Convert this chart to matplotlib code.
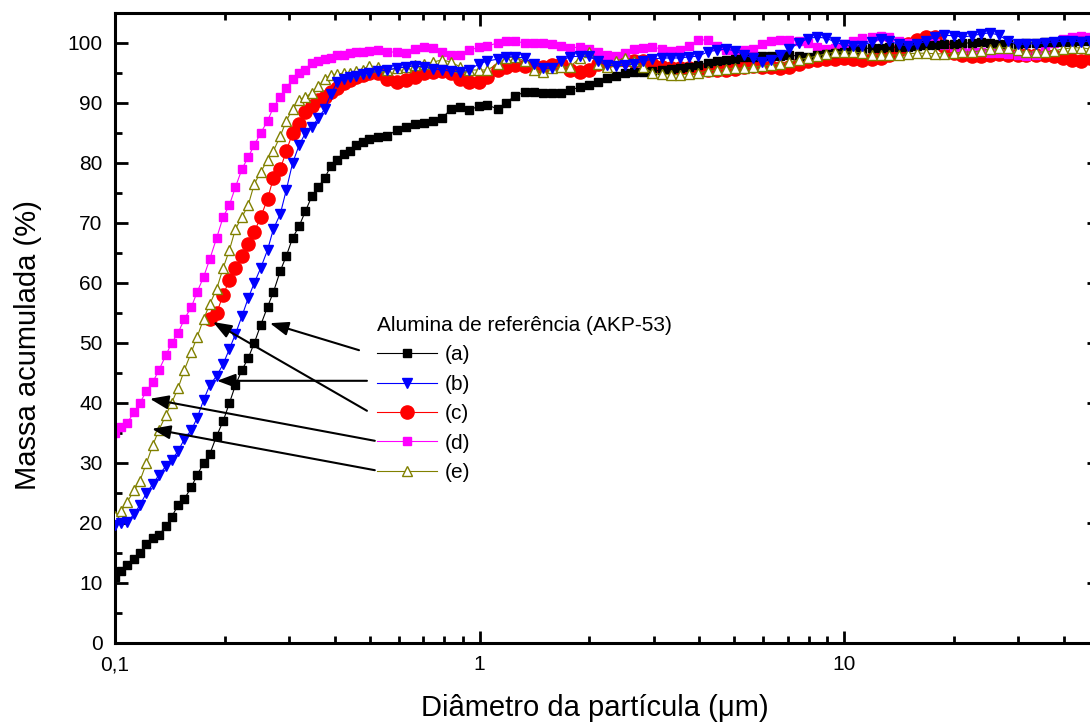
import numpy as np
import matplotlib.pyplot as plt
from matplotlib.ticker import FixedLocator, LogLocator, MultipleLocator, NullFormatter

plt.rcParams['font.family'] = ['Liberation Sans', 'DejaVu Sans']

# Diametro da particula (um)
diametro = [
    0.100, 0.104, 0.108, 0.113, 0.117, 0.122, 0.127, 0.132, 0.138, 0.143,
    0.149, 0.155, 0.162, 0.168, 0.175, 0.182, 0.190, 0.198, 0.206, 0.214,
    0.223, 0.232, 0.241, 0.251, 0.262, 0.272, 0.284, 0.295, 0.307, 0.320,
    0.333, 0.347, 0.361, 0.376, 0.391, 0.407, 0.424, 0.441, 0.459, 0.478, 0.498,
    0.527, 0.559, 0.592, 0.627, 0.664, 0.703, 0.745, 0.789, 0.836, 0.886, 0.938, 0.994,
    1.05, 1.12, 1.18, 1.25, 1.33, 1.41, 1.49, 1.58, 1.67, 1.77, 1.88, 1.99,
    2.11, 2.23, 2.37, 2.51, 2.66, 2.81, 2.98, 3.16, 3.35, 3.55, 3.76, 3.98,
    4.22, 4.47, 4.73, 5.01, 5.31, 5.62, 5.96, 6.31, 6.68, 7.08, 7.50, 7.94,
    8.41, 8.91, 9.44, 10.0, 10.6, 11.2, 11.9, 12.6, 13.3, 14.1, 15.0, 15.8,
    16.8, 17.8, 18.8, 20.0, 21.1, 22.4, 23.7, 25.1, 26.6, 28.2, 29.9, 31.6,
    33.5, 35.5, 37.6, 39.8, 42.2, 44.7, 47.3,
]

# Massa acumulada (%)
massa_a = [
    11.0, 12.0, 13.0, 14.0, 15.0, 16.5, 17.5, 18.0, 19.5, 21.0,
    23.0, 24.0, 26.0, 28.0, 30.0, 31.5, 34.5, 37.0, 40.0, 43.0,
    45.5, 47.5, 50.0, 53.0, 56.0, 58.5, 62.0, 64.5, 67.5, 69.5,
    72.0, 74.5, 76.0, 77.5, 79.5, 80.5, 81.5, 82.0, 83.0, 83.5, 84.0,
    84.3, 84.5, 85.5, 86.0, 86.5, 86.7, 87.0, 87.5, 89.0, 89.3, 88.8, 89.5,
    89.7, 89.0, 90.0, 91.2, 91.8, 91.8, 91.7, 91.6, 91.7, 92.2, 92.6, 93.0,
    93.5, 94.2, 94.5, 95.0, 95.1, 95.2, 95.3, 95.5, 95.6, 95.8, 96.0, 96.3,
    96.7, 97.0, 97.2, 97.4, 97.6, 97.7, 97.8, 97.8, 97.9, 98.0, 97.8, 97.7,
    98.0, 98.2, 98.4, 98.5, 98.8, 99.0, 99.2, 99.2, 99.3, 99.3, 99.4, 99.5,
    99.6, 99.7, 99.8, 99.8, 100.0, 100.0, 100.1, 100.0, 99.9, 99.8, 99.9, 100.0,
    100.0, 100.1, 100.2, 100.2, 100.2, 100.3, 100.3,
]
massa_b = [
    19.7, 20.0, 20.2, 21.5, 23.0, 25.0, 26.5, 28.0, 29.5, 30.5,
    32.0, 34.0, 35.5, 37.5, 40.5, 43.0, 44.5, 46.5, 49.0, 51.5,
    54.5, 57.5, 60.0, 62.5, 65.5, 69.0, 71.5, 75.5, 80.0, 83.0,
    85.0, 86.0, 87.5, 89.0, 91.5, 93.5, 94.0, 94.3, 94.5, 94.8, 95.0,
    95.3, 95.5, 95.8, 96.0, 96.2, 96.0, 95.7, 95.5, 95.3, 95.2, 95.5, 96.5,
    97.0, 97.3, 97.7, 97.7, 97.5, 96.5, 95.8, 95.8, 97.0, 97.7, 97.8, 97.8,
    97.0, 96.3, 96.2, 96.3, 96.5, 97.0, 97.3, 97.5, 97.5, 97.5, 97.7, 97.8,
    98.5, 98.8, 99.0, 98.7, 98.0, 97.5, 96.8, 97.2, 98.0, 99.0, 100.0, 100.7,
    101.0, 100.8, 100.2, 99.6, 99.5, 99.5, 100.2, 100.7, 100.3, 99.8, 99.5, 99.8,
    100.3, 101.0, 101.3, 101.2, 101.0, 101.2, 101.5, 101.7, 101.3, 100.3, 99.8, 99.8,
    99.9, 100.0, 100.2, 100.3, 100.3, 100.2, 100.3,
]
massa_c = [
    np.nan, np.nan, np.nan, np.nan, np.nan, np.nan, np.nan, np.nan, np.nan, np.nan,
    np.nan, np.nan, np.nan, np.nan, np.nan, 54.0, 55.0, 58.0, 60.5, 62.5,
    64.5, 66.5, 68.5, 71.0, 74.0, 77.5, 79.0, 82.0, 85.0, 86.5,
    88.5, 89.5, 90.5, 91.0, 91.8, 92.5, 93.3, 93.8, 94.3, 94.7, 95.0,
    95.0, 94.0, 93.5, 93.8, 94.3, 95.0, 95.2, 95.3, 95.0, 94.0, 93.5, 93.5,
    94.3, 95.5, 96.0, 96.3, 96.2, 96.2, 96.0, 96.3, 96.5, 95.5, 95.2, 95.5,
    96.5, 97.0, 97.2, 97.2, 97.0, 97.0, 96.5, 96.0, 95.8, 95.8, 95.8, 95.7,
    95.5, 95.5, 95.5, 95.6, 96.0, 96.2, 96.0, 96.0, 95.8, 96.0, 96.5, 97.0,
    97.2, 97.3, 97.4, 97.5, 97.3, 97.2, 97.4, 97.5, 98.0, 98.8, 99.8, 100.5,
    101.0, 101.0, 99.5, 98.3, 98.0, 97.8, 97.8, 98.0, 98.2, 98.0, 98.0, 98.0,
    98.0, 98.0, 97.8, 97.5, 97.2, 97.0, 97.5,
]
massa_d = [
    35.0, 36.0, 36.7, 38.5, 40.0, 42.0, 43.5, 45.5, 48.0, 50.0,
    51.7, 54.0, 56.0, 58.5, 61.0, 64.0, 67.5, 71.0, 73.0, 76.0,
    79.0, 81.0, 83.0, 85.0, 87.0, 89.3, 91.0, 92.5, 94.0, 95.0,
    95.5, 96.7, 97.0, 97.3, 97.5, 98.0, 98.0, 98.3, 98.5, 98.5, 98.7,
    98.8, 98.5, 98.5, 98.3, 99.0, 99.3, 99.2, 98.5, 98.0, 98.0, 98.8, 99.3,
    99.5, 100.0, 100.3, 100.3, 100.0, 100.0, 100.0, 99.8, 99.5, 99.2, 99.3, 99.0,
    98.5, 98.0, 97.8, 98.3, 99.0, 99.2, 99.3, 99.0, 98.7, 98.8, 99.5, 100.5,
    100.5, 99.5, 98.8, 98.7, 98.8, 99.0, 99.8, 100.3, 100.5, 100.5, 100.3, 100.0,
    99.3, 99.0, 99.2, 99.8, 100.3, 100.8, 101.0, 101.2, 101.0, 100.3, 100.0, 99.8,
    100.0, 100.0, 99.7, 99.3, 99.0, 98.8, 98.5, 98.3, 98.3, 98.2, 98.0, 97.8,
    98.0, 98.8, 100.0, 100.7, 101.0, 101.2, 101.0,
]
massa_e = [
    21.2, 22.0, 23.5, 25.5, 27.0, 30.0, 33.0, 35.5, 38.0, 40.0,
    42.5, 45.5, 48.5, 51.0, 54.0, 56.5, 59.0, 62.5, 65.5, 69.0,
    71.0, 73.0, 76.5, 78.5, 80.5, 82.0, 84.5, 87.0, 89.0, 90.5,
    91.0, 91.7, 92.8, 94.0, 94.7, 94.8, 95.0, 95.0, 95.3, 95.5, 96.2,
    96.0, 95.5, 95.8, 96.0, 96.3, 96.5, 96.8, 97.2, 96.8, 96.0, 95.5, 95.5,
    95.5, 96.5, 97.5, 97.7, 97.0, 95.5, 95.2, 95.8, 96.0, 96.0, 97.5, 98.5,
    96.5, 96.0, 97.0, 97.5, 97.0, 96.0, 95.0, 94.8, 94.7, 94.7, 94.8, 95.0,
    95.3, 95.5, 95.7, 95.8, 95.8, 96.0, 96.2, 96.3, 96.5, 96.8, 97.2, 97.5,
    97.8, 98.2, 98.5, 98.5, 98.5, 98.3, 98.0, 98.0, 98.0, 98.0, 98.2, 98.3,
    98.3, 98.2, 98.2, 98.3, 98.5, 98.5, 98.7, 99.0, 99.2, 99.2, 98.8, 98.5,
    98.5, 98.5, 98.7, 99.0, 99.2, 99.2, 99.0,
]

rotulos = ['(a)', '(b)', '(c)', '(d)', '(e)']
titulo_legenda = 'Alumina de referência (AKP-53)'

fig = plt.figure(figsize=(10.9, 7.24), dpi=100)
ax = fig.add_axes([115 / 1090, 81 / 724, 984 / 1090, 630 / 724])

# color, marker, size, face, zorder
estilos = [
    ('black', 's', 5.5, 'black', 3),
    ('#0000ff', 'v', 6.5, '#0000ff', 5),
    ('#ff0000', 'o', 9.5, '#ff0000', 1),
    ('#ff00ff', 's', 5.5, '#ff00ff', 2),
    ('#808000', '^', 6.5, 'white', 4),
]
dados = [massa_a, massa_b, massa_c, massa_d, massa_e]
for y, lab, (cor, mk, ms, face, z) in zip(dados, rotulos, estilos):
    ax.plot(diametro, y, color=cor, lw=0.8, marker=mk, markersize=ms,
            markerfacecolor=face, markeredgecolor=cor, markeredgewidth=1.0,
            label=lab, zorder=z)

ax.set_xscale('log')
ax.set_xlim(0.1, 50)
ax.set_ylim(0, 105)

ax.xaxis.set_major_locator(FixedLocator([0.1, 1, 10]))
ax.set_xticklabels(['0,1', '1', '10'])
ax.xaxis.set_minor_locator(LogLocator(base=10, subs=np.arange(2, 10)))
ax.xaxis.set_minor_formatter(NullFormatter())
ax.yaxis.set_major_locator(MultipleLocator(10))
ax.yaxis.set_minor_locator(MultipleLocator(5))
ax.set_yticks(np.arange(0, 101, 10))

for s in ax.spines.values():
    s.set_linewidth(2.2)
ax.tick_params(which='both', direction='in', top=True, right=True, width=2.0,
               labelsize=15, pad=9)
ax.tick_params(which='major', length=9)
ax.tick_params(which='minor', length=5)

ax.set_xlabel('Diâmetro da partícula (μm)', fontsize=21)
ax.set_ylabel('Massa acumulada (%)', fontsize=21)
ax.xaxis.set_label_coords(0.488, -0.081)
ax.yaxis.set_label_coords(-0.074, 0.473)

leg = ax.legend(title=titulo_legenda, loc='upper left', frameon=False,
                fontsize=15, title_fontsize=15, alignment='left',
                bbox_to_anchor=(377 / 1090, 1 - 316 / 724),
                bbox_transform=fig.transFigure, borderpad=0, borderaxespad=0,
                handlelength=2.9, handletextpad=0.35, labelspacing=0.5)

# arrows from legend entries to curves (tip, tail)
setas = [
    ((0.266, 53.3), (0.467, 48.8)),
    ((0.1905, 43.7), (0.491, 43.7)),
    ((0.1857, 53.5), (0.491, 38.7)),
    ((0.1247, 40.7), (0.516, 33.7)),
    ((0.1263, 35.7), (0.516, 28.8)),
]
for ponta, cauda in setas:
    ax.annotate('', xy=ponta, xytext=cauda,
                arrowprops=dict(arrowstyle='-|>,head_length=0.8,head_width=0.3',
                                color='black', lw=1.5, mutation_scale=14,
                                shrinkA=0, shrinkB=0), zorder=6)

plt.savefig('out.png', dpi=100)
